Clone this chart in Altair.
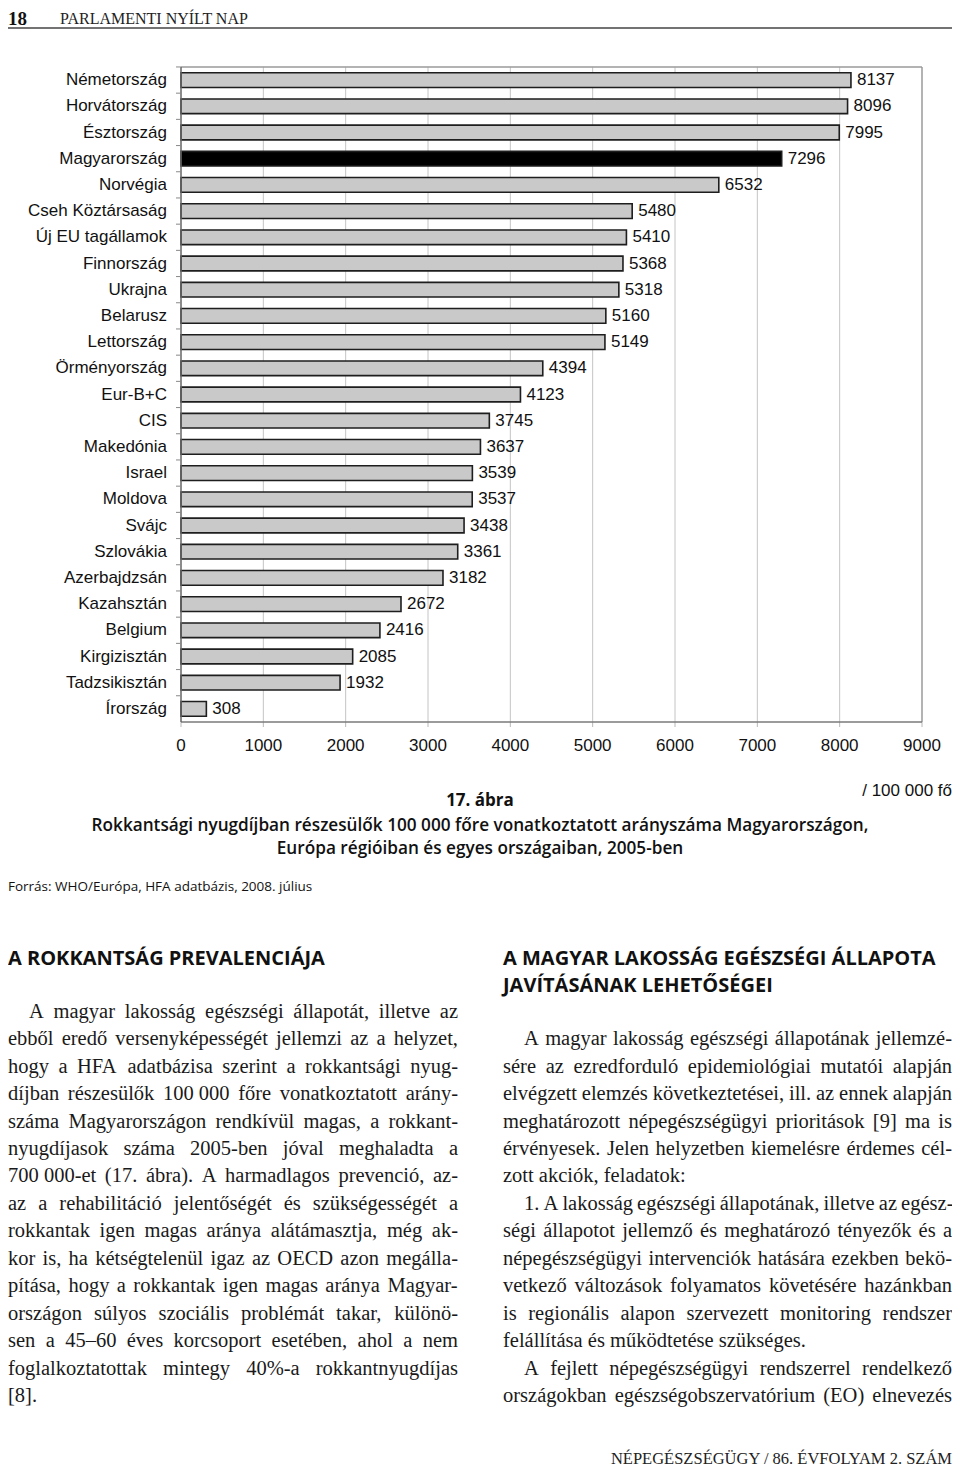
import altair as alt
import pandas as pd

# ---------------- data ----------------
countries = ["Németország", "Horvátország", "Észtország", "Magyarország", "Norvégia",
             "Cseh Köztársaság", "Új EU tagállamok", "Finnország", "Ukrajna", "Belarusz",
             "Lettország", "Örményország", "Eur-B+C", "CIS", "Makedónia", "Israel",
             "Moldova", "Svájc", "Szlovákia", "Azerbajdzsán", "Kazahsztán", "Belgium",
             "Kirgizisztán", "Tadzsikisztán", "Írország"]
values = [8137, 8096, 7995, 7296, 6532, 5480, 5410, 5368, 5318, 5160, 5149, 4394, 4123,
          3745, 3637, 3539, 3537, 3438, 3361, 3182, 2672, 2416, 2085, 1932, 308]
highlight = "Magyarország"
x_ticks = [0, 1000, 2000, 3000, 4000, 5000, 6000, 7000, 8000, 9000]
grid_ticks = [1000, 2000, 3000, 4000, 5000, 6000, 7000, 8000]

header_num = "18"
header_title = "PARLAMENTI NYÍLT NAP"
unit_label = "/ 100 000 fő"
fig_no = "17. ábra"
caption = ["Rokkantsági nyugdíjban részesülők 100 000 főre vonatkoztatott arányszáma Magyarországon,",
           "Európa régióiban és egyes országaiban, 2005-ben"]
source = "Forrás: WHO/Európa, HFA adatbázis, 2008. július"

left_heading = ["A ROKKANTSÁG PREVALENCIÁJA"]
left_lines = [
    "A magyar lakosság egészségi állapotát, illetve az",
    "ebből eredő versenyképességét jellemzi az a helyzet,",
    "hogy a HFA adatbázisa szerint a rokkantsági nyug-",
    "díjban részesülők 100\u00a0000 főre vonatkoztatott arány-",
    "száma Magyarországon rendkívül magas, a rokkant-",
    "nyugdíjasok száma 2005-ben jóval meghaladta a",
    "700\u00a0000-et (17. ábra). A harmadlagos prevenció, az-",
    "az a rehabilitáció jelentőségét és szükségességét a",
    "rokkantak igen magas aránya alátámasztja, még ak-",
    "kor is, ha kétségtelenül igaz az OECD azon megálla-",
    "pítása, hogy a rokkantak igen magas aránya Magyar-",
    "országon súlyos szociális problémát takar, különö-",
    "sen a 45–60 éves korcsoport esetében, ahol a nem",
    "foglalkoztatottak mintegy 40%-a rokkantnyugdíjas",
    "[8].",
]
left_indent = [0]
left_last = [14]

right_heading = ["A MAGYAR LAKOSSÁG EGÉSZSÉGI ÁLLAPOTA", "JAVÍTÁSÁNAK LEHETŐSÉGEI"]
right_lines = [
    "A magyar lakosság egészségi állapotának jellemzé-",
    "sére az ezredforduló epidemiológiai mutatói alapján",
    "elvégzett elemzés következtetései, ill. az ennek alapján",
    "meghatározott népegészségügyi prioritások [9] ma is",
    "érvényesek. Jelen helyzetben kiemelésre érdemes cél-",
    "zott akciók, feladatok:",
    "1. A lakosság egészségi állapotának, illetve az egész-",
    "ségi állapotot jellemző és meghatározó tényezők és a",
    "népegészségügyi intervenciók hatására ezekben bekö-",
    "vetkező változások folyamatos követésére hazánkban",
    "is regionális alapon szervezett monitoring rendszer",
    "felállítása és működtetése szükséges.",
    "A fejlett népegészségügyi rendszerrel rendelkező",
    "országokban egészségobszervatórium (EO) elnevezés",
]
right_indent = [0, 6, 12]
right_last = [5, 11]

footer = "NÉPEGÉSZSÉGÜGY / 86. ÉVFOLYAM 2. SZÁM"

# ---------------- layout constants (chart coords = page - 8) ----------------
W, H = 944, 1461
PX0, PX1 = 173, 914      # plot x range
PY0, PY1 = 59, 714       # plot y range
BODY_FS = 20.5
LINE_H = 27.45
CH_FS = 17               # chart label font size

# Times New Roman advance widths (per 1000 em) for justification
_w = {' ': 250, '\u00a0': 250, ',': 250, '.': 250, '-': 333, '–': 500, ':': 278, ';': 278,
      '(': 333, ')': 333, '[': 333, ']': 333, '%': 833, '/': 278}
for d in "0123456789":
    _w[d] = 500
_lower = dict(a=444, b=500, c=444, d=500, e=444, f=333, g=500, h=500, i=278, j=278, k=500,
              l=278, m=778, n=500, o=500, p=500, q=500, r=333, s=389, t=278, u=500, v=500,
              w=722, x=500, y=500, z=444)
_upper = dict(A=722, B=667, C=667, D=722, E=611, F=556, G=722, H=722, I=333, J=389, K=722,
              L=611, M=889, N=722, O=722, P=556, Q=722, R=667, S=556, T=611, U=722, V=722,
              W=944, X=722, Y=722, Z=611)
_w.update(_lower)
_w.update(_upper)
_acc = {'á': 'a', 'é': 'e', 'í': 'i', 'ó': 'o', 'ö': 'o', 'ő': 'o', 'ú': 'u', 'ü': 'u', 'ű': 'u',
        'Á': 'A', 'É': 'E', 'Í': 'I', 'Ó': 'O', 'Ö': 'O', 'Ő': 'O', 'Ú': 'U', 'Ü': 'U', 'Ű': 'U'}


def text_w(s, fs):
    return sum(_w.get(_acc.get(ch, ch), 500) for ch in s) / 1000.0 * fs


def justify(lines, x0, x1, y0, indent_idx, last_idx, indent=21):
    rows = []
    for i, line in enumerate(lines):
        y = y0 + i * LINE_H
        xs = x0 + (indent if i in indent_idx else 0)
        words = line.split(' ')
        if i in last_idx or len(words) == 1:
            rows.append({'x': xs, 'y': y, 't': line})
            continue
        tot = sum(text_w(w, BODY_FS) for w in words)
        gap = max((x1 - xs - tot) / (len(words) - 1), 0.2 * BODY_FS)
        x = xs
        for w in words:
            rows.append({'x': x, 'y': y, 't': w})
            x += text_w(w, BODY_FS) + gap
    return rows


body_rows = justify(left_lines, 0, 450, 1009.7, left_indent, left_last) + \
    justify(right_lines, 495, 944, 1037.2, right_indent, right_last)
body_df = pd.DataFrame(body_rows)

head_rows = [{'x': 0, 'y': 956.5, 't': left_heading[0]}] + \
    [{'x': 495, 'y': 956.5 + i * 27, 't': t} for i, t in enumerate(right_heading)]
head_df = pd.DataFrame(head_rows)

df = pd.DataFrame({'c': countries, 'v': values})
tick_df = pd.DataFrame({'g': x_ticks})

xs = alt.Scale(domain=[0, 9000], range=[PX0, PX1], nice=False, zero=True)
ys = alt.Scale(domain=countries, range=[PY0, PY1], paddingInner=0.44, paddingOuter=0.22)

one = pd.DataFrame({'a': [0]})

# gridlines
grid = alt.Chart(pd.DataFrame({'g': grid_ticks})).mark_rule(color='#c4c4c4', strokeWidth=1).encode(
    x=alt.X('g:Q', scale=xs, axis=None),
    y=alt.value(PY0), y2=alt.value(PY1))

frame_top = alt.Chart(one).mark_rule(color='#9a9a9a', strokeWidth=1.5).encode(
    x=alt.value(PX0), x2=alt.value(PX1), y=alt.value(PY0))
frame_right = alt.Chart(one).mark_rule(color='#9a9a9a', strokeWidth=1.5).encode(
    x=alt.value(PX1), y=alt.value(PY0), y2=alt.value(PY1))

# x axis (drawn by hand inside the single view)
x_domain = alt.Chart(one).mark_rule(color='#7a7a7a', strokeWidth=1.5).encode(
    x=alt.value(PX0), x2=alt.value(PX1), y=alt.value(PY1))
x_tickmarks = alt.Chart(tick_df).mark_rule(color='#b8b8b8', strokeWidth=1).encode(
    x=alt.X('g:Q', scale=xs, axis=None), y=alt.value(PY1), y2=alt.value(PY1 + 5))
x_labels = alt.Chart(tick_df).mark_text(align='center', baseline='middle', font='Liberation Sans',
                                        fontSize=CH_FS, color='#111111').encode(
    x=alt.X('g:Q', scale=xs, axis=None), y=alt.value(738), text=alt.Text('g:Q', format='d'))

# y axis
y_domain = alt.Chart(one).mark_rule(color='#666666', strokeWidth=1.5).encode(
    x=alt.value(PX0), y=alt.value(PY0), y2=alt.value(PY1))
yticks = alt.Chart(df).mark_rule(color='#888888', strokeWidth=1, yOffset=-5.8).encode(
    y=alt.Y('c:N', scale=ys, bandPosition=0, axis=None),
    x=alt.value(PX0 - 5), x2=alt.value(PX0))
y_labels = alt.Chart(df).mark_text(align='right', baseline='middle', font='Liberation Sans',
                                   fontSize=CH_FS, color='#111111').encode(
    y=alt.Y('c:N', scale=ys, axis=None), x=alt.value(159), text='c:N')

bars = alt.Chart(df).mark_bar(stroke='#1e1e1e', strokeWidth=1.6).encode(
    x=alt.X('v:Q', scale=xs, axis=None),
    y=alt.Y('c:N', scale=ys, axis=None),
    fill=alt.condition(f"datum.c === '{highlight}'", alt.value('#000000'), alt.value('#c9c9c9')))

labels = alt.Chart(df).mark_text(align='left', baseline='middle', dx=6, font='Liberation Sans',
                                 fontSize=CH_FS, color='#111111').encode(
    x=alt.X('v:Q', scale=xs, axis=None),
    y=alt.Y('c:N', scale=ys, axis=None),
    text=alt.Text('v:Q', format='d'))


def free_text(x, y, txt, **kw):
    return alt.Chart(one).mark_text(baseline='alphabetic', **kw).encode(
        x=alt.value(x), y=alt.value(y), text=alt.value(txt))


hdr_num = free_text(0, 17, header_num, align='left', font='Liberation Serif', fontSize=19,
                    fontWeight='bold', color='#111111')
hdr_title = free_text(52, 15.5, header_title, align='left', font='Liberation Serif', fontSize=16,
                      color='#222222')
hdr_rule = alt.Chart(one).mark_rule(color='#444444', strokeWidth=1.5).encode(
    x=alt.value(0), x2=alt.value(W), y=alt.value(20))

unit = free_text(944, 788, unit_label, align='right', font='Liberation Sans', fontSize=CH_FS,
                 color='#111111')
figno = free_text(472, 798, fig_no, align='center', font='Open Sans', fontSize=17,
                  fontWeight='bold', color='#111111')
cap1 = free_text(472, 823, caption[0], align='center', font='Open Sans', fontSize=17.2,
                 fontWeight=600, color='#111111')
cap2 = free_text(472, 846, caption[1], align='center', font='Open Sans', fontSize=17.2,
                 fontWeight=600, color='#111111')
src = free_text(0, 883, source, align='left', font='Open Sans', fontSize=13.5, color='#111111')
foot = free_text(944, 1456, footer, align='right', font='Liberation Serif', fontSize=16.5,
                 color='#222222')

headings = alt.Chart(head_df).mark_text(align='left', baseline='alphabetic', font='Open Sans',
                                        fontSize=20, fontWeight='bold', color='#111111').encode(
    x=alt.X('x:Q', scale=None, axis=None), y=alt.Y('y:Q', scale=None, axis=None), text='t:N')

body = alt.Chart(body_df).mark_text(align='left', baseline='alphabetic', font='Liberation Serif',
                                    fontSize=BODY_FS, color='#1a1a1a').encode(
    x=alt.X('x:Q', scale=None, axis=None), y=alt.Y('y:Q', scale=None, axis=None), text='t:N')

chart = alt.layer(
    grid, frame_top, frame_right, x_tickmarks, bars, x_domain, y_domain, yticks, labels,
    x_labels, y_labels,
    hdr_num, hdr_title, hdr_rule, unit, figno, cap1, cap2, src, headings, body, foot
).properties(
    width=W, height=H, padding=0, autosize=alt.AutoSizeParams(type='none')
).configure_view(stroke=None)

chart.save("out.html", embed_options={"renderer": "svg", "actions": False})
